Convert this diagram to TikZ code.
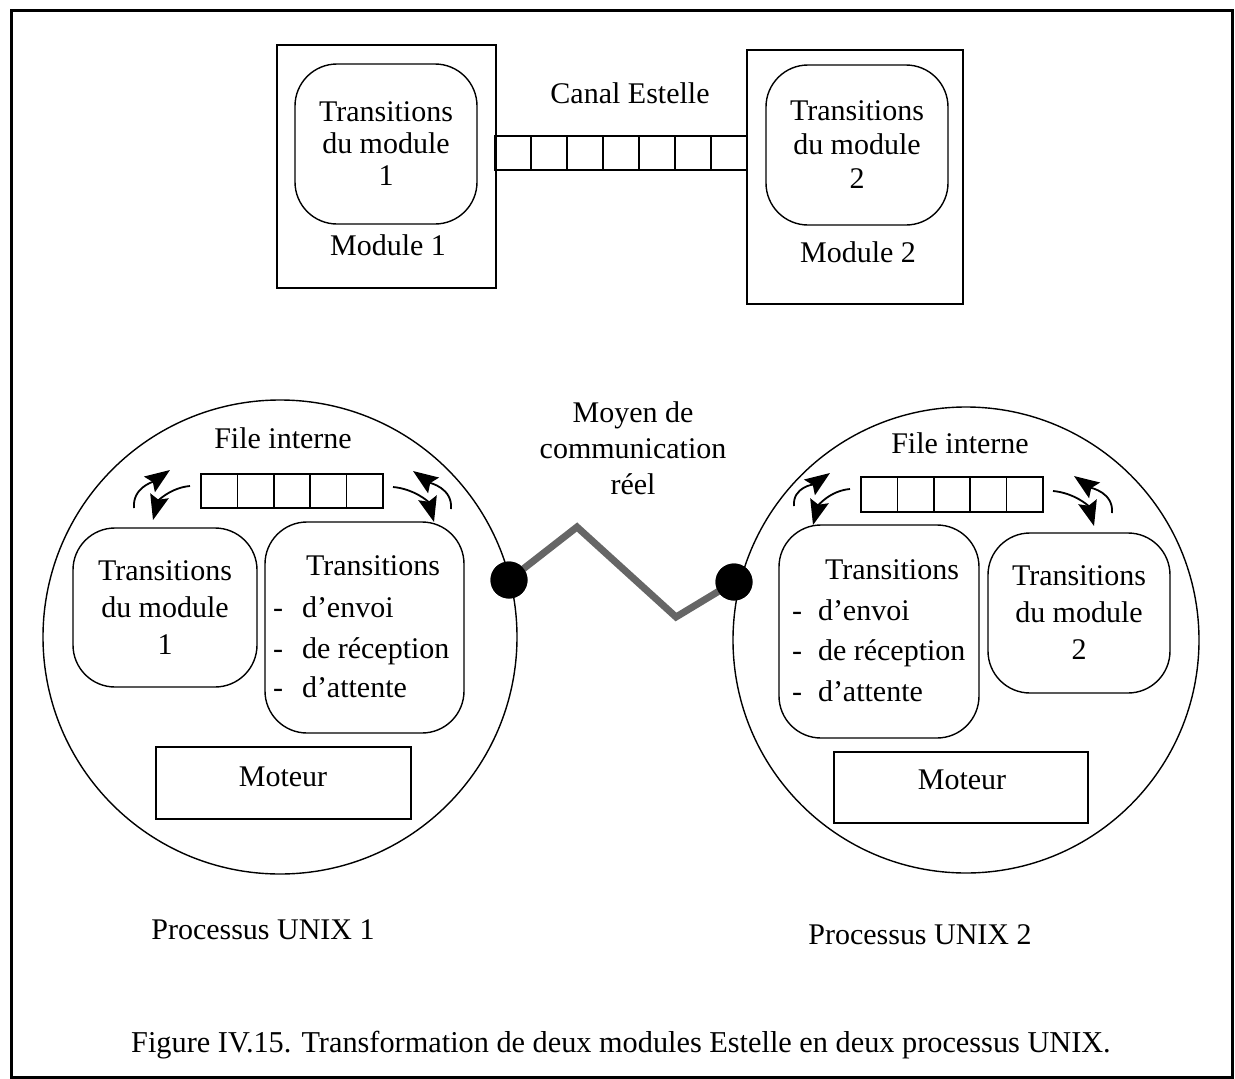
\documentclass[tikz,border=0pt]{standalone}
\usepackage{fontspec}
\setmainfont{Liberation Serif}
\usetikzlibrary{arrows.meta}
\begin{document}
\begin{tikzpicture}[x=1pt,y=-1pt,
  every node/.style={inner sep=0pt, outer sep=0pt},
  txt/.style={font=\fontsize{30}{35}\selectfont, align=center},
  txtl/.style={font=\fontsize{30}{37}\selectfont, align=center},
  sqbox/.style={draw, line width=1.4pt},
  rbox/.style={draw, line width=1.4pt, rounded corners=42pt},
  cell/.style={draw, line width=1.4pt, minimum width=36.2pt, minimum height=34pt},
  proc/.style={draw, circle, line width=1.4pt},
  dot/.style={circle, fill=black, minimum size=37pt},
  flow/.style={line width=1.8pt, -{Stealth[length=25pt,width=19pt,inset=4pt]}}
]
\useasboundingbox (0,0) rectangle (1235,1079);
% outer frame
\node[draw, line width=3pt, minimum width=1221pt, minimum height=1067pt] (frame) at (621.5,543.5) {};

% ---------- top: Estelle modules ----------
\node[sqbox, minimum width=219pt, minimum height=243pt] (m1) at (386.5,166.5) {};
\node[rbox, minimum width=182pt, minimum height=160pt, txt, font=\fontsize{30}{32}\selectfont] (t1) at (386,144) {Transitions\\du module\\1};
\node[txt] (m1l) at (388,245) {Module 1};

\node[sqbox, minimum width=216pt, minimum height=254pt] (m2) at (855,177) {};
\node[rbox, minimum width=182pt, minimum height=160pt, txt, font=\fontsize{30}{34}\selectfont] (t2) at (857,145) {Transitions\\du module\\2};
\node[txt] (m2l) at (858,252) {Module 2};

\foreach \i in {1,...,7} {
  \node[cell] (q\i) at ({495+36*(\i-0.5)},153) {};
}
\node[txt] (canal) at (630,93) {Canal Estelle};

% ---------- bottom: UNIX processes ----------
\node[proc, minimum size=474pt] (p1) at (280,637) {};
\node[proc, minimum size=466pt] (p2) at (966,640) {};

% process 1
\node[txt] (f1) at (283,438) {File interne};
\foreach \i in {1,...,5} {
  \node[cell, minimum height=34pt] (a\i) at ({201+36.4*(\i-0.5)},491) {};
}
\node[rbox, minimum width=184pt, minimum height=159pt, txtl] (tm1) at (165,607.5) {Transitions\\du module\\1};
\node[rbox, minimum width=199pt, minimum height=211pt] (tc1) at (364.5,627.5) {};
\node[txt] (tc1h) at (373,566) {Transitions};
\node[txt, anchor=base] at (278,617) {-};
\node[txt, anchor=base] at (278,658) {-};
\node[txt, anchor=base] at (278,697) {-};
\node[txt, anchor=base west] (tc1a) at (302,617) {d'envoi};
\node[txt, anchor=base west] (tc1b) at (302,658) {de réception};
\node[txt, anchor=base west] (tc1c) at (302,697) {d'attente};
\node[sqbox, minimum width=255pt, minimum height=72pt] (mot1) at (283.5,783) {};
\node[txt] at (283,777) {Moteur};
\node[txt] (pl1) at (263,930) {Processus UNIX 1};

\coordinate (a1s) at (190,486); \coordinate (a1e) at (153,520);
\coordinate (b1s) at (134,508); \coordinate (b1e) at (170,470);
\coordinate (c1s) at (393,487); \coordinate (c1e) at (434,522);
\coordinate (d1s) at (451,509); \coordinate (d1e) at (413,471);
\draw[flow] (a1s) to[out=185,in=75] (a1e);
\draw[flow] (b1s) to[out=95,in=215] (b1e);
\draw[flow] (c1s) to[out=-5,in=105] (c1e);
\draw[flow] (d1s) to[out=85,in=-35] (d1e);

% process 2
\node[txt] (f2) at (960,443) {File interne};
\foreach \i in {1,...,5} {
  \node[cell, minimum height=35pt] (b\i) at ({861+36.4*(\i-0.5)},494.5) {};
}
\node[rbox, minimum width=200pt, minimum height=213pt] (tc2) at (879,631.5) {};
\node[txt] (tc2h) at (892,570) {Transitions};
\node[txt, anchor=base] at (797,620) {-};
\node[txt, anchor=base] at (797,660) {-};
\node[txt, anchor=base] at (797,701) {-};
\node[txt, anchor=base west] (tc2a) at (818,620) {d'envoi};
\node[txt, anchor=base west] (tc2b) at (818,660) {de réception};
\node[txt, anchor=base west] (tc2c) at (818,701) {d'attente};
\node[rbox, minimum width=182pt, minimum height=160pt, txtl] (tm2) at (1079,613) {Transitions\\du module\\2};
\node[sqbox, minimum width=254pt, minimum height=71pt] (mot2) at (961,787.5) {};
\node[txt] at (962,780) {Moteur};
\node[txt] (pl2) at (920,935) {Processus UNIX 2};

\coordinate (a2s) at (850,489); \coordinate (a2e) at (813,525);
\coordinate (b2s) at (794,506); \coordinate (b2e) at (830,473);
\coordinate (c2s) at (1053,491); \coordinate (c2e) at (1094,526);
\coordinate (d2s) at (1112,513); \coordinate (d2e) at (1074,476);
\draw[flow] (a2s) to[out=185,in=75] (a2e);
\draw[flow] (b2s) to[out=95,in=215] (b2e);
\draw[flow] (c2s) to[out=-5,in=105] (c2e);
\draw[flow] (d2s) to[out=85,in=-35] (d2e);

% real communication link
\node[dot] (d1) at (509,580) {};
\node[dot] (d2) at (734,582) {};
\coordinate (z1) at (577,527);
\coordinate (z2) at (676,617);
\draw[black!60, line width=7pt, line join=miter] (d1.center) -- (z1) -- (z2) -- (d2.center);
\node[dot] at (d1) {};
\node[dot] at (d2) {};
\node[txt, font=\fontsize{30}{36}\selectfont] (moy) at (633,448) {Moyen de\\communication\\réel};

% caption
\node[font=\fontsize{30.3}{34}\selectfont] (cap) at (621,1045) {Figure IV.15. Transformation de deux modules Estelle en deux processus UNIX.};
\end{tikzpicture}
\end{document}
